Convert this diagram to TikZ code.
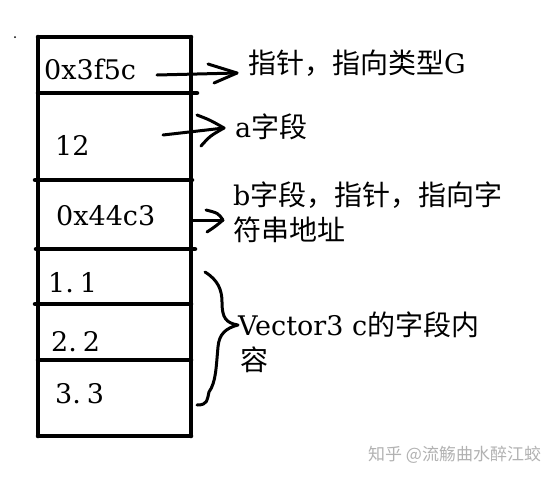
\documentclass[tikz,border=0pt]{standalone}
\usepackage{fontspec}
\setmainfont{DejaVu Serif}
\newfontfamily\cjk{Noto Sans CJK SC}
\usetikzlibrary{calc}
\begin{document}
\begin{tikzpicture}[x=1pt,y=-1pt,
  cellline/.style={line width=4.5pt, line cap=round},
  val/.style={anchor=base west, inner sep=0pt, font=\fontsize{27}{32}\selectfont},
  lbl/.style={anchor=base west, inner sep=0pt, font=\fontsize{27}{32}\selectfont},
  pen/.style={line width=3pt, line cap=round, line join=round},
  wm/.style={anchor=base west, inner sep=0pt, text=black!30, font=\cjk\fontsize{17}{20}\selectfont}]
\useasboundingbox (0,0) rectangle (548,477);
\fill[white] (0,0) rectangle (548,477);
% tiny speck
\fill (15,37) circle (1pt);
% memory cells
\draw[cellline] (38,37) -- (191,37);
\draw[cellline] (38,37) -- (38,436);
\draw[cellline] (191,37) -- (191,436);
\draw[cellline] (38,436) -- (191,436);
\draw[cellline] (38,93) -- (197,93);
\draw[cellline] (35,180) -- (192,180);
\draw[cellline] (36,249) -- (195,249);
\draw[cellline] (35,304) -- (191,304);
\draw[cellline] (38,360) -- (191,360);
% values
\node[val] (v1) at (44,79) {0x3f5c};
\node[val] (v2) at (55,155) {12};
\node[val] (v3) at (56,225) {0x44c3};
\node[val] (v4) at (48,292) {1.\hspace{6pt}1};
\node[val] (v5) at (51,351) {2.\hspace{6pt}2};
\node[val] (v6) at (55,403) {3.\hspace{6pt}3};
% labels
\node[lbl] (l1) at (248,73) {{\cjk\fontsize{28}{32}\selectfont 指针，指向类型}G};
\node[lbl] (l2) at (235,137) {a{\cjk\fontsize{28}{32}\selectfont 字段}};
\node[lbl] (l3a) at (233,205) {b{\cjk\fontsize{28}{32}\selectfont 字段，指针，指向字}};
\node[lbl] (l3b) at (233,240) {{\cjk\fontsize{28}{32}\selectfont 符串地址}};
\node[lbl] (l4a) at (238,335) {Vector3 c{\cjk\fontsize{28}{32}\selectfont 的字段内}};
\node[lbl] (l4b) at (240,370) {{\cjk\fontsize{28}{32}\selectfont 容}};
% arrows
\coordinate (s1) at (157,75);
\coordinate (t1) at (237,73);
\draw[pen] (s1) -- (t1);
\draw[pen] (208,64) -- (t1) -- (214,83);
\coordinate (s2) at (163,135);
\coordinate (t2) at (224,128);
\draw[pen] (s2) -- (t2);
\draw[pen] (197,115) .. controls (210,120) .. (t2) .. controls (210,136) .. (201,146);
\coordinate (s3) at (191,220);
\coordinate (t3) at (223,220);
\draw[pen] (s3) -- (t3);
\draw[pen] (206,210) .. controls (218,213) .. (t3) .. controls (216,226) .. (207,232);
% brace
\coordinate (bt) at (238,325);
\draw[pen] (205,272) .. controls (218,280) and (222,290) .. (222,302)
  .. controls (222,318) and (226,323) .. (bt)
  .. controls (226,328) and (219,334) .. (218,347)
  .. controls (216,368) and (216,382) .. (209,392)
  .. controls (207,400) and (208,405) .. (197,405);
% watermark
\node[wm] (wm) at (368,460) {知乎 @流觞曲水醉江蛟};
\end{tikzpicture}
\end{document}
